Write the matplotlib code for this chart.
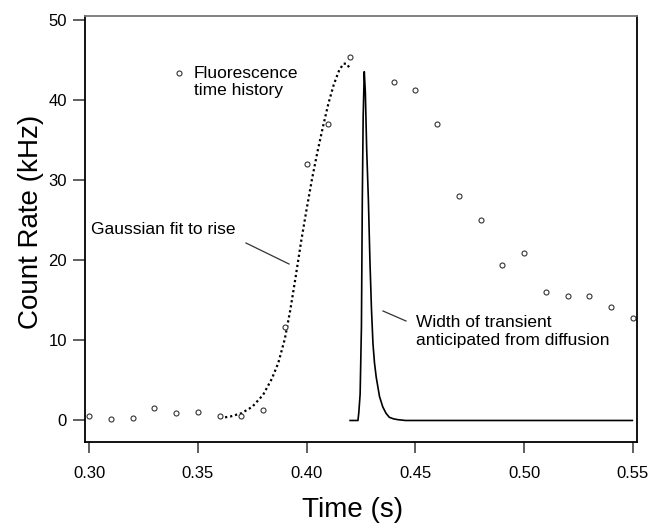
import matplotlib
matplotlib.use("Agg")
import matplotlib.pyplot as plt

plt.rcParams['font.family'] = ['Liberation Sans', 'DejaVu Sans']

# Fluorescence time history (open circles)
t_data = [0.30, 0.31, 0.32, 0.33, 0.34, 0.35, 0.36, 0.37, 0.38, 0.39, 0.40,
          0.41, 0.42, 0.44, 0.45, 0.46, 0.47, 0.48, 0.49, 0.50, 0.51, 0.52,
          0.53, 0.54, 0.55]
rate_data = [0.5, 0.2, 0.3, 1.6, 0.9, 1.1, 0.5, 0.5, 1.3, 11.7, 32.1,
             37.1, 45.4, 42.3, 41.3, 37.1, 28.0, 25.0, 19.4, 20.9, 16.1, 15.5,
             15.5, 14.2, 12.8]

# Gaussian fit to rise (dotted)
t_fit = [0.3602, 0.3650, 0.3700, 0.3750, 0.3800, 0.3840, 0.3870, 0.3900,
         0.3925, 0.3950, 0.3975, 0.4000, 0.4025, 0.4050, 0.4075, 0.4100,
         0.4125, 0.4150, 0.4170, 0.4185, 0.4196]
rate_fit = [0.3, 0.5, 0.9, 1.7, 3.2, 5.2, 7.2, 10.2,
            13.8, 18.0, 22.4, 26.4, 30.2, 33.6, 36.7, 39.6,
            42.0, 43.8, 44.6, 44.6, 44.1]

# Transient anticipated from diffusion (solid)
t_diff = [0.4200, 0.4236, 0.4240, 0.4246, 0.4252, 0.4256, 0.4260, 0.4265,
          0.4270, 0.4276, 0.4284, 0.4291, 0.4298, 0.4305, 0.4312, 0.4320,
          0.4335, 0.4350, 0.4365, 0.4380, 0.4400, 0.4420, 0.4455, 0.5497]
rate_diff = [0.0, 0.0, 1.0, 3.3, 11.7, 27.5, 38.0, 43.6,
             41.0, 34.0, 27.5, 20.0, 14.0, 9.6, 7.2, 5.4,
             3.0, 1.7, 0.9, 0.4, 0.2, 0.1, 0.0, 0.0]

x_ticks = [0.30, 0.35, 0.40, 0.45, 0.50, 0.55]
x_ticklabels = ["0.30", "0.35", "0.40", "0.45", "0.50", "0.55"]
y_ticks = [0, 10, 20, 30, 40, 50]
y_ticklabels = ["0", "10", "20", "30", "40", "50"]

W, H = 653, 528
fig = plt.figure(figsize=(W / 100, H / 100), dpi=100)
ax = fig.add_axes([85 / W, 1 - 442 / H, (637 - 85) / W, (442 - 16) / H])

ax.plot(t_fit, rate_fit, color='black', lw=1.6, linestyle=(0, (1, 1.3)))
ax.plot(t_diff, rate_diff, color='black', lw=1.2)
ax.plot(t_data, rate_data, linestyle='none', marker='o', markersize=3.6,
        markerfacecolor='white', markeredgecolor='#333333', markeredgewidth=0.8)

ax.set_xlim(0.29816, 0.55184)
ax.set_ylim(-2.69, 50.56)
ax.set_xticks(x_ticks)
ax.set_xticklabels(x_ticklabels)
ax.set_yticks(y_ticks)
ax.set_yticklabels(y_ticklabels)
ax.tick_params(axis='both', direction='out', labelsize=12, width=1.2,
               color='#444444')
ax.tick_params(axis='x', length=8, pad=9)
ax.tick_params(axis='y', length=9, pad=4)

for side in ['left', 'right', 'bottom']:
    ax.spines[side].set_color('black')
    ax.spines[side].set_linewidth(1.3)
ax.spines['top'].set_color('#777777')
ax.spines['top'].set_linewidth(1.3)


def px(x, y):
    return (x / W, 1 - y / H)


# Axis labels
fig.text(*px(353, 510), "Time (s)", fontsize=20, ha='center', va='center')
fig.text(*px(31, 222), "Count Rate (kHz)", fontsize=20, ha='center',
         va='center', rotation=90)

# Annotations
ax.plot([0.30 + (179 - 89) / 2176], [(420.5 - 73) / 8], linestyle='none',
        marker='o', markersize=3.6, markerfacecolor='white',
        markeredgecolor='#333333', markeredgewidth=0.8, clip_on=False)
fig.text(*px(194, 78), "Fluorescence", fontsize=12.5, ha='left',
         va='baseline')
fig.text(*px(194, 94.5), "time history", fontsize=12.5, ha='left',
         va='baseline')

fig.text(*px(91, 234), "Gaussian fit to rise", fontsize=12.5, ha='left',
         va='baseline')
fig.add_artist(plt.Line2D([246 / W, 289 / W], [1 - 243 / H, 1 - 264 / H],
                          color='#333333', lw=0.9))

fig.text(*px(416, 327), "Width of transient", fontsize=12.5, ha='left',
         va='baseline')
fig.text(*px(416, 344.5), "anticipated from diffusion", fontsize=12.5,
         ha='left', va='baseline')
fig.add_artist(plt.Line2D([383 / W, 406 / W], [1 - 311 / H, 1 - 321 / H],
                          color='#333333', lw=0.9))

fig.savefig("out.png", dpi=100)
